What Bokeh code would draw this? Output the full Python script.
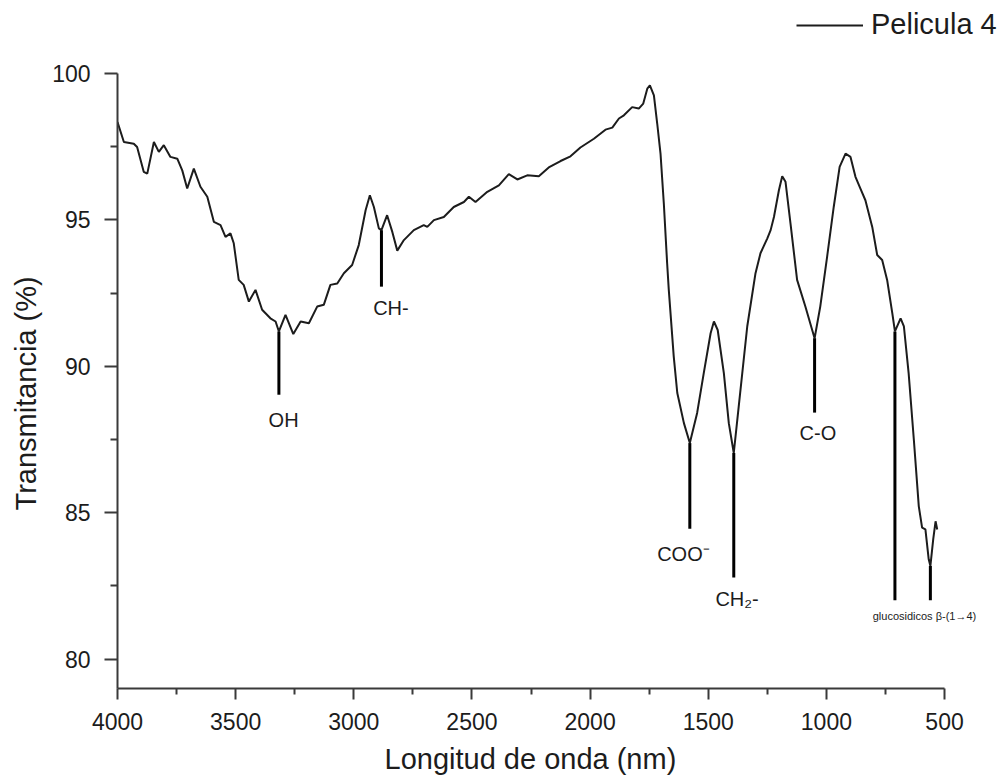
from bokeh.plotting import figure
from bokeh.models import FixedTicker, Legend, LegendItem, Range1d, Title
from bokeh.core.properties import value
from bokeh.embed import file_html
from bokeh.resources import INLINE
import numpy as np

# FTIR spectrum of film 4: wavenumber vs transmittance
wavenumber = [
    4000, 3973, 3931, 3917, 3889, 3874, 3846, 3825, 3804, 3776, 3747, 3726,
    3705, 3677, 3649, 3620, 3592, 3564, 3543, 3522, 3508, 3487, 3466, 3444,
    3416, 3388, 3353, 3331, 3317, 3289, 3256, 3225, 3190, 3155, 3127, 3099,
    3070, 3042, 3007, 2979, 2950, 2932, 2915, 2894, 2883, 2859, 2837, 2816,
    2788, 2746, 2704, 2689, 2661, 2619, 2577, 2534, 2513, 2485, 2435, 2386,
    2344, 2308, 2266, 2217, 2175, 2125, 2083, 2041, 1984, 1935, 1906, 1878,
    1857, 1822, 1794, 1775, 1758, 1747, 1730, 1716, 1702, 1688, 1674, 1667,
    1646, 1631, 1603, 1578, 1547, 1519, 1490, 1476, 1460, 1434, 1413, 1392,
    1371, 1335, 1300, 1279, 1250, 1236, 1222, 1201, 1187, 1173, 1152, 1124,
    1089, 1050, 1026, 997, 969, 944, 919, 898, 877, 856, 835, 806, 785, 764,
    743, 721, 710, 686, 672, 652, 630, 609, 595, 581, 567, 560, 548, 538, 531,
]
transmittance = [
    98.34, 97.66, 97.60, 97.49, 96.64, 96.58, 97.66, 97.32, 97.55, 97.15, 97.09, 96.69,
    96.07, 96.75, 96.13, 95.79, 94.93, 94.82, 94.42, 94.54, 94.20, 92.95, 92.78, 92.21,
    92.61, 91.93, 91.64, 91.53, 91.19, 91.76, 91.10, 91.53, 91.47, 92.04, 92.10, 92.78,
    92.83, 93.18, 93.46, 94.14, 95.33, 95.84, 95.44, 94.71, 94.65, 95.16, 94.59, 93.95,
    94.31, 94.65, 94.82, 94.76, 94.99, 95.10, 95.44, 95.61, 95.79, 95.61, 95.96, 96.18,
    96.56, 96.38, 96.52, 96.49, 96.79, 97.01, 97.17, 97.47, 97.77, 98.08, 98.15, 98.46,
    98.57, 98.85, 98.80, 98.97, 99.48, 99.59, 99.25, 98.29, 97.26, 95.56, 93.52, 92.61,
    90.33, 89.09, 88.06, 87.38, 88.41, 89.77, 91.13, 91.53, 91.24, 89.77, 88.06, 87.04,
    88.63, 91.36, 93.18, 93.86, 94.37, 94.65, 95.10, 96.01, 96.49, 96.30, 94.88, 92.95,
    92.04, 90.96, 92.04, 93.74, 95.44, 96.81, 97.26, 97.15, 96.47, 96.07, 95.67, 94.76, 93.80, 93.63,
    92.95, 91.81, 91.19, 91.64, 91.36, 89.77, 87.50, 85.22, 84.49, 84.43, 83.41, 83.18, 84.09, 84.71, 84.43,
]

# Band assignments: marker position and where each marker line ends
band_wn = [3317, 2883, 1578, 1392, 1050, 710, 560]
band_end = [89.03, 92.72, 84.45, 82.79, 88.42, 82.01, 82.01]

# Band labels (text, position, baseline)
label_text = ["OH", "CH-", "COO\u207b", "CH\u2082-", "C-O"]
label_wn = [3297, 2843, 1605, 1378, 1036]
label_t = [88.18, 91.99, 83.58, 82.04, 87.73]
gluc_text = ["glucosidicos \u03b2-(1\u21924)"]
gluc_wn = [585]
gluc_t = [81.47]

x_major = [4000, 3500, 3000, 2500, 2000, 1500, 1000, 500]
x_minor = [3750, 3250, 2750, 2250, 1750, 1250, 750]
y_major = [80, 85, 90, 95, 100]
y_minor = [82.5, 87.5, 92.5, 97.5]

FONT = "Liberation Sans"
INK = "#1c1c1c"
AXIS = "#3a3a3a"

# The frame reaches the top and right edges so the legend and the last
# band label have room; the axes themselves stop at 100 % and 500.
p = figure(
    width=1001, height=783,
    x_range=Range1d(4000, 259), y_range=Range1d(79, 102.49),
    output_backend="svg", toolbar_location=None,
    min_border_left=117, min_border_right=0,
    min_border_top=0, min_border_bottom=94,
)
p.outline_line_color = None
p.grid.visible = False
p.background_fill_color = "white"
p.border_fill_color = "white"

spectrum = p.line(wavenumber, transmittance, line_color=INK, line_width=2)

# marker lines from the curve down to each label
band_top = np.interp(band_wn, wavenumber[::-1], transmittance[::-1])
p.segment(x0=band_wn, y0=band_top, x1=band_wn, y1=band_end,
          line_color="black", line_width=3)

p.text(x=label_wn, y=label_t, text=label_text, text_align="center",
       text_baseline="alphabetic", text_font=value(FONT),
       text_font_size="20px", text_color=INK)
p.text(x=gluc_wn, y=gluc_t, text=gluc_text, text_align="center",
       text_baseline="alphabetic", text_font=value(FONT),
       text_font_size="11px", text_color=INK)

for ax in (p.xaxis[0], p.yaxis[0]):
    ax.axis_line_color = AXIS
    ax.axis_line_width = 2
    ax.major_tick_line_color = AXIS
    ax.major_tick_line_width = 2
    ax.minor_tick_line_color = AXIS
    ax.minor_tick_line_width = 2
    ax.major_tick_in = 0
    ax.minor_tick_in = 0
    ax.major_label_text_font = FONT
    ax.major_label_text_font_size = "23px"
    ax.major_label_text_color = INK

p.xaxis[0].ticker = FixedTicker(ticks=x_major, minor_ticks=x_minor)
p.yaxis[0].ticker = FixedTicker(ticks=y_major, minor_ticks=y_minor)
p.xaxis[0].bounds = (4000, 500)
p.yaxis[0].bounds = (79, 100)
p.xaxis[0].major_tick_out = 11
p.xaxis[0].minor_tick_out = 6
p.yaxis[0].major_tick_out = 13
p.yaxis[0].minor_tick_out = 7
p.xaxis[0].major_label_standoff = 13
p.yaxis[0].major_label_standoff = 14

# axis titles, placed along the drawn axes rather than the wider frame
p.add_layout(Title(text="Longitud de onda (nm)", align="left", offset=267,
                   standoff=17, text_font=FONT, text_font_size="29px",
                   text_font_style="normal", text_color=INK), "below")
p.add_layout(Title(text="Transmitancia (%)", align="left", offset=178,
                   standoff=15, text_font=FONT, text_font_size="29px",
                   text_font_style="normal", text_color=INK), "left")

legend = Legend(
    items=[LegendItem(label="Pelicula 4", renderers=[spectrum])],
    location=(679, 647),
    border_line_color=None, background_fill_alpha=0,
    padding=0, margin=0, glyph_width=67, glyph_height=20,
    label_standoff=8, label_text_font=FONT,
    label_text_font_size="29px", label_text_color=INK,
)
p.add_layout(legend)

open("out.html", "w").write(file_html(p, INLINE))
